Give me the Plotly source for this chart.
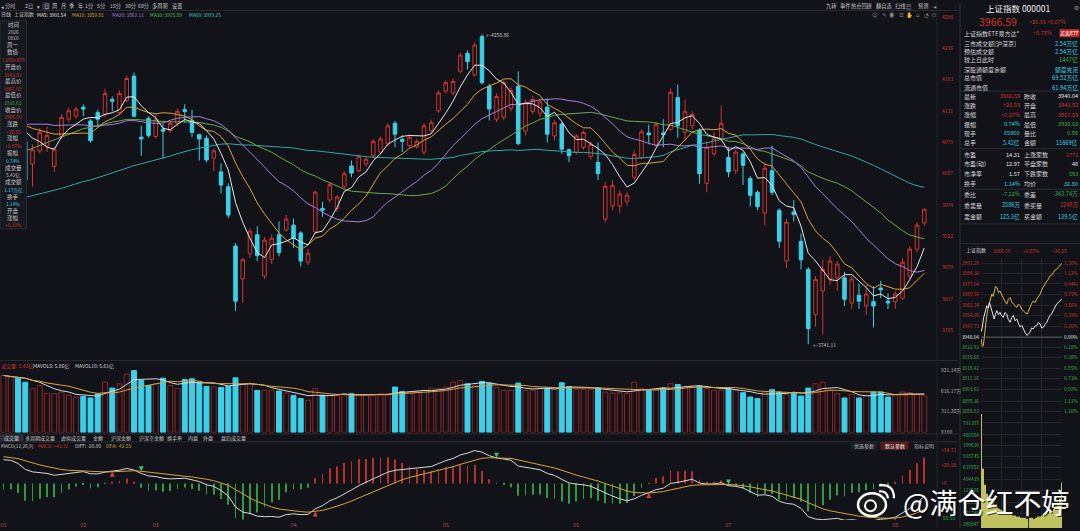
import pandas as pd
import plotly.graph_objects as go

W, H = 1080, 531
BG = "#111318"
PANEL = "#16191f"
RED = "#d0342c"
RED_DIM = "#8f2626"
CYAN = "#3ad0ea"
GREEN = "#3fae49"
WHITE = "#e6e6e6"
YEL = "#d9a43a"
PURP = "#a57fd8"
MA30C = "#6aa84a"
TEAL = "#2fa8a4"
LBL = "#c8c8c8"
FONT = "Noto Sans CJK SC, DejaVu Sans, sans-serif"

# ---------------- daily data ----------------
open_ = [4100, 4120, 4132, 4080, 4042, 4064, 4072, 4038, 4088, 4117,
         4122, 4137, 4114, 4128, 4125, 4150, 4128, 4148, 4189, 4087,
         4118, 4088, 4100, 4098, 4110, 4133, 4115, 4091, 4085, 4052,
         4029, 4004, 3905, 3850, 3892, 3924, 3855, 3883, 3924, 3932,
         3940, 3927, 3878, 3929, 3968, 3982, 3968, 4004, 4039, 4031,
         4042, 4056, 4062, 4076, 4110, 4083, 4073, 4071, 4062, 4098,
         4131, 4164, 4161, 4197, 4227, 4191, 4255, 4172, 4117, 4120,
         4135, 4172, 4097, 4130, 4127, 4137, 4089, 4109, 4066, 4062,
         4070, 4055, 4045, 3950, 3972, 3972, 3979, 4020, 4053, 4094,
         4073, 4094, 4100, 4153, 4095, 4106, 4098, 4010, 4060, 4085,
         4053, 4031, 4059, 4018, 3995, 3960, 4031, 3965, 3880, 3962,
         3913, 3866, 3791, 3830, 3850, 3852, 3852, 3810, 3823, 3805,
         3812, 3835, 3813, 3812, 3818, 3855, 3900, 3943.82]
high = [4130, 4140, 4135, 4082, 4075, 4102, 4105, 4070, 4125, 4136,
        4138, 4142, 4117, 4133, 4168, 4155, 4165, 4190, 4195, 4106,
        4122, 4125, 4109, 4114, 4135, 4142, 4133, 4093, 4090, 4068,
        4043, 4010, 3910, 3885, 3935, 3938, 3920, 3925, 3946, 3957,
        3951, 3930, 3900, 3998, 3979, 4012, 3990, 4030, 4048, 4058,
        4054, 4084, 4088, 4110, 4114, 4090, 4092, 4084, 4110, 4116,
        4165, 4182, 4185, 4228, 4232, 4245, 4258.86, 4176, 4160, 4182,
        4170, 4197, 4150, 4156, 4152, 4152, 4115, 4112, 4068, 4092,
        4098, 4080, 4078, 4012, 4015, 3998, 3995, 4065, 4100, 4108,
        4112, 4117, 4168, 4175, 4150, 4130, 4102, 4080, 4095, 4140,
        4070, 4066, 4062, 4022, 3998, 4045, 4073, 3968, 3950, 3982,
        3926, 3870, 3855, 3882, 3888, 3880, 3862, 3855, 3843, 3840,
        3838, 3847, 3826, 3830, 3885, 3905, 3945, 3967.59]
low = [4095, 4110, 4080, 4012, 4004, 4060, 4062, 4029, 4084, 4112,
       4118, 4122, 4078, 4105, 4120, 4130, 4125, 4145, 4120, 4056,
       4086, 4085, 4051, 4094, 4105, 4111, 4087, 4048, 4045, 4030,
       3993, 3952, 3797, 3810, 3885, 3880, 3850, 3875, 3888, 3929,
       3902, 3871, 3874, 3926, 3954, 3978, 3962, 4000, 4020, 4028,
       4038, 4052, 4058, 4072, 4070, 4062, 4070, 4068, 4058, 4094,
       4128, 4160, 4157, 4193, 4200, 4188, 4175, 4115, 4112, 4115,
       4130, 4074, 4090, 4125, 4120, 4078, 4082, 4059, 4045, 4058,
       4066, 4050, 4015, 3945, 3965, 3960, 3972, 4015, 4050, 4075,
       4070, 4070, 4098, 4086, 4080, 4100, 4009, 3995, 4055, 4080,
       4020, 4025, 4007, 3971, 3965, 3940, 3990, 3902, 3868, 3946,
       3866, 3741.11, 3770, 3757, 3840, 3830, 3805, 3800, 3800, 3790,
       3769, 3818, 3800, 3800, 3815, 3850, 3895, 3938.63]
close_ = [4125, 4135, 4085, 4016, 4066, 4095, 4090, 4067, 4120, 4131,
          4134, 4134, 4081, 4117, 4160, 4147, 4160, 4185, 4122, 4084,
          4090, 4116, 4097, 4110, 4130, 4130, 4095, 4084, 4049, 4064,
          4007, 3957, 3813, 3882, 3930, 3889, 3915, 3918, 3894, 3950,
          3918, 3880, 3893, 3995, 3965, 4008, 3987, 4026, 4027, 4055,
          4050, 4080, 4084, 4106, 4092, 4080, 4087, 4080, 4106, 4111,
          4161, 4178, 4180, 4224, 4213, 4241, 4178, 4134, 4155, 4178,
          4165, 4076, 4144, 4150, 4146, 4092, 4111, 4067, 4056, 4089,
          4095, 4075, 4026, 4005, 4006, 3992, 3990, 4058, 4096, 4091,
          4108, 4091, 4162, 4106, 4130, 4125, 4026, 4070, 4085, 4110,
          4029, 4062, 4040, 3990, 3971, 4035, 3995, 3913, 3945, 3958,
          3882, 3767, 3849, 3866, 3880, 3875, 3816, 3850, 3813, 3825,
          3805, 3832, 3810, 3825, 3878, 3900, 3940.04, 3966.59]
# volume, unit: 万 (x100)
volume = [842, 818, 803, 744, 647, 695, 573, 573, 598, 549,
          524, 534, 510, 573, 744, 656, 720, 866, 915, 769,
          695, 720, 803, 695, 647, 783, 793, 744, 681, 671,
          666, 681, 808, 720, 720, 622, 622, 622, 612, 583,
          549, 500, 475, 647, 549, 549, 549, 563, 573, 559,
          559, 549, 559, 573, 671, 607, 598, 607, 622, 656,
          647, 671, 744, 769, 720, 695, 754, 730, 671, 622,
          622, 730, 622, 622, 647, 656, 656, 734, 676, 637,
          637, 637, 661, 598, 583, 588, 573, 744, 647, 622,
          622, 656, 720, 710, 671, 671, 686, 647, 622, 622,
          661, 622, 588, 524, 500, 598, 632, 598, 559, 588,
          539, 656, 720, 744, 622, 573, 510, 563, 510, 549,
          598, 598, 524, 549, 598, 588, 573, 542]
# closes before the first visible day (feed the moving averages / MACD)
prior_closes = [3902, 3915, 3908, 3896, 3905, 3918, 3912, 3900, 3894, 3906,
                3915, 3922, 3910, 3898, 3904, 3913, 3920, 3908, 3899, 3906,
                3915, 3911, 3902, 3896, 3908, 3917, 3924, 3912, 3903, 3910,
                3918, 3906, 3912,
                3930, 3945, 3952, 3948, 3966, 3980, 3992, 4005, 4012, 4020,
                4060, 4085, 4098, 4110, 4122, 4115, 4128, 4135, 4120, 4126,
                4118, 4130, 4112, 4105, 4118, 4124]

month_tick_idx = [0, 11, 21, 40, 61, 79, 100, 123]
month_tick_labels = ["01", "02", "03", "04", "05", "06", "07", "08"]
price_ticks = [3765, 3817, 3870, 3922, 3974, 4027, 4079, 4131, 4183, 4236, 4288]
vol_ticks = [0, 311.20, 616.17, 921.14]
vol_tick_labels = ["X100", "311.20万", "616.17万", "921.14万"]
macd_ticks = [-58.55, 0, 29.98, 54.71]
macd_tick_labels = ["-58.55", "+0", "+29.98", "+54.71"]
high_label = (66, 4258.86)
low_label = (111, 3741.11)

# ---------------- intraday data (right panel) ----------------
prev_close = 3940.04
intra_t = [0, 4, 7, 12, 17, 21, 25, 29, 32, 36, 39, 43, 47, 52, 56, 61, 66, 71, 76,
           81, 86, 91, 96, 101, 106, 111, 116, 121, 125, 131, 137, 141, 145, 150,
           155, 160, 165, 170, 175, 180, 185, 190, 195, 200, 204, 209, 214, 219,
           224, 231, 239]
intra_index = [3943.8, 3947.0, 3952.7, 3957.5, 3961.8, 3960.2, 3964.1, 3961.0, 3958.4,
               3955.2, 3952.7, 3956.0, 3958.4, 3955.6, 3957.3, 3955.0, 3953.8, 3957.2,
               3956.1, 3952.3, 3950.4, 3953.5, 3955.0, 3951.4, 3952.7, 3949.5, 3947.0,
               3948.2, 3945.8, 3943.0, 3941.2, 3942.6, 3943.5, 3946.3, 3945.8, 3947.7,
               3948.0, 3950.1, 3949.2, 3946.4, 3947.0, 3949.0, 3950.4, 3953.1, 3955.0,
               3956.2, 3958.4, 3960.5, 3963.0, 3964.4, 3966.6]
intra_lead = [3938.9, 3933.5, 3934.3, 3946.0, 3955.0, 3960.0, 3964.1, 3967.5, 3969.9,
              3968.4, 3971.0, 3975.2, 3974.5, 3971.0, 3972.1, 3969.5, 3967.6, 3965.0,
              3963.0, 3966.2, 3967.6, 3964.5, 3963.0, 3961.5, 3960.7, 3963.0, 3961.8,
              3959.5, 3958.4, 3957.0, 3956.1, 3958.8, 3960.7, 3963.5, 3965.2, 3964.0,
              3966.4, 3968.0, 3969.9, 3973.0, 3975.6, 3977.0, 3979.0, 3980.4, 3982.5,
              3983.1, 3984.8, 3986.5, 3987.1, 3989.0, 3991.2]
intra_vol_t = list(range(0, 241, 6))
intra_vol = [100, 52, 38, 30, 26, 24, 22, 20, 19, 17, 16, 15, 14, 13, 13, 12,
             11, 11, 10, 10, 9, 9, 9, 8, 9, 9, 8, 9, 10, 10, 11, 11, 12, 13,
             14, 15, 17, 19, 22, 26, 40]
intra_price_ticks = [3991.20, 3984.30, 3977.04, 3969.50, 3962.24, 3954.98, 3947.73,
                     3940.04, 3932.93, 3925.68, 3918.42, 3911.16, 3903.62, 3895.36,
                     3888.63]
intra_pct_labels = ["1.30%", "1.12%", "0.94%", "0.75%", "0.56%", "0.39%", "0.20%",
                    "0.00%", "0.18%", "0.38%", "0.55%", "0.73%", "0.92%", "1.11%",
                    "1.30%"]
intra_vol_tick_pos = [92.2, 81.7, 72.4, 62.6, 53.0, 42.9, 33.0, 22.6, 13.0, 3.5]
intra_vol_tick_labels = ["791397", "480554", "199630", "918745", "637852",
                         "404419", "123526", "842633", "561740", "280847"]

# ---------------- derived series ----------------
n = len(close_)
idx = list(range(n))
k = len(prior_closes)
allc = pd.Series(prior_closes + close_, dtype=float)
ma = {p: allc.rolling(p, min_periods=1).mean().iloc[k:].tolist() for p in (5, 10, 20, 30, 60)}
ema12 = allc.ewm(span=12, adjust=False).mean()
ema26 = allc.ewm(span=26, adjust=False).mean()
dif_all = ema12 - ema26
dea_all = dif_all.ewm(span=9, adjust=False).mean()
dif = dif_all.iloc[k:].tolist()
dea = dea_all.iloc[k:].tolist()
hist = [2 * (a - b) for a, b in zip(dif, dea)]
vol_s = pd.Series(volume, dtype=float)
mavol5 = vol_s.rolling(5, min_periods=1).mean().tolist()
mavol10 = vol_s.rolling(10, min_periods=1).mean().tolist()
up = [c >= o for o, c in zip(open_, close_)]
gold_x, gold_y, dead_x, dead_y = [], [], [], []
for i in range(1, n):
    if dif[i - 1] < dea[i - 1] and dif[i] >= dea[i]:
        gold_x.append(i); gold_y.append(dea[i])
    elif dif[i - 1] > dea[i - 1] and dif[i] <= dea[i]:
        dead_x.append(i); dead_y.append(dea[i])

fig = go.Figure()
fig.add_trace(go.Candlestick(
    x=idx, open=open_, high=high, low=low, close=close_,
    increasing=dict(line=dict(color=RED, width=1), fillcolor=BG),
    decreasing=dict(line=dict(color=CYAN, width=1), fillcolor=CYAN),
    whiskerwidth=0, xaxis="x", yaxis="y", showlegend=False, hoverinfo="skip"))
for p, col in [(60, TEAL), (30, MA30C), (20, PURP), (10, YEL), (5, WHITE)]:
    fig.add_trace(go.Scatter(x=idx, y=ma[p], mode="lines", line=dict(color=col, width=1),
                             xaxis="x", yaxis="y", showlegend=False, hoverinfo="skip"))

fig.add_trace(go.Bar(x=idx, y=volume, width=0.68,
                     marker=dict(color=[BG if u else CYAN for u in up],
                                 line=dict(color=[RED_DIM if u else CYAN for u in up], width=1)),
                     xaxis="x2", yaxis="y2", showlegend=False, hoverinfo="skip"))
fig.add_trace(go.Scatter(x=idx, y=mavol5, mode="lines", line=dict(color="#d8d8d8", width=1),
                         xaxis="x2", yaxis="y2", showlegend=False, hoverinfo="skip"))
fig.add_trace(go.Scatter(x=idx, y=mavol10, mode="lines", line=dict(color=YEL, width=1),
                         xaxis="x2", yaxis="y2", showlegend=False, hoverinfo="skip"))

fig.add_trace(go.Bar(x=idx, y=hist, width=0.12,
                     marker=dict(color=["#b8322c" if v >= 0 else "#2f9a40" for v in hist], line=dict(width=0)),
                     xaxis="x3", yaxis="y3", showlegend=False, hoverinfo="skip"))
fig.add_trace(go.Scatter(x=idx, y=dif, mode="lines", line=dict(color="#d8d8d8", width=1),
                         xaxis="x3", yaxis="y3", showlegend=False, hoverinfo="skip"))
fig.add_trace(go.Scatter(x=idx, y=dea, mode="lines", line=dict(color=YEL, width=1),
                         xaxis="x3", yaxis="y3", showlegend=False, hoverinfo="skip"))
fig.add_trace(go.Scatter(x=gold_x, y=gold_y, mode="markers",
                         marker=dict(symbol="arrow-up", size=5, color="#e04040"),
                         xaxis="x3", yaxis="y3", showlegend=False, hoverinfo="skip"))
fig.add_trace(go.Scatter(x=dead_x, y=dead_y, mode="markers",
                         marker=dict(symbol="arrow-down", size=5, color="#40c060"),
                         xaxis="x3", yaxis="y3", showlegend=False, hoverinfo="skip"))

# intraday
fig.add_trace(go.Scatter(x=[0, 240], y=[prev_close, prev_close], mode="lines",
                         line=dict(color="#5a5e66", width=1), xaxis="x4", yaxis="y6",
                         showlegend=False, hoverinfo="skip"))
fig.add_trace(go.Scatter(x=intra_t, y=intra_lead, mode="lines", line=dict(color="#d6b84a", width=1),
                         xaxis="x4", yaxis="y4", showlegend=False, hoverinfo="skip"))
fig.add_trace(go.Scatter(x=intra_t, y=intra_index, mode="lines", line=dict(color="#e8e8e8", width=1),
                         xaxis="x4", yaxis="y4", showlegend=False, hoverinfo="skip"))
fig.add_trace(go.Bar(x=intra_vol_t, y=intra_vol, width=3.5, marker=dict(color="#bfc25e", line=dict(width=0)),
                     xaxis="x5", yaxis="y5", showlegend=False, hoverinfo="skip"))

def py(p):
    return 1 - p / H

def px(p):
    return p / W

x_dom = [0, px(937)]
ppx = 7.25
xr = [-3.5 / ppx, -3.5 / ppx + 937 / ppx]
noax = dict(showgrid=False, zeroline=False, showline=False, ticks="")

def colored(vals, texts):
    out = []
    for v, t in zip(vals, texts):
        c = RED if v > prev_close + 0.01 else (WHITE if abs(v - prev_close) < 0.01 else GREEN)
        out.append(f"<span style='color:{c}'>{t}</span>")
    return out

iy_range = [3888.63 - 3 * 0.6884, 3991.2 + 6 * 0.6884]
layout = dict(
    width=W, height=H, margin=dict(l=0, r=0, t=0, b=0),
    paper_bgcolor=BG, plot_bgcolor=BG, barmode="overlay",
    font=dict(family=FONT, size=6, color=WHITE), showlegend=False,
    xaxis=dict(domain=x_dom, range=xr, visible=False, rangeslider=dict(visible=False), anchor="y", **noax),
    xaxis2=dict(domain=x_dom, matches="x", visible=False, anchor="y2", **noax),
    xaxis3=dict(domain=x_dom, matches="x", anchor="y3", tickvals=month_tick_idx, ticktext=month_tick_labels,
                tickfont=dict(size=5.5, color="#b04848"), ticklabelstandoff=0, **noax),
    yaxis=dict(domain=[py(362), py(12)], range=[4288 - (362 - 15) * 1.655, 4288 - (12 - 15) * 1.655],
               side="right", anchor="x", tickvals=price_ticks, ticktext=[str(v) for v in price_ticks],
               tickfont=dict(size=5, color=RED), ticklabelstandoff=4, **noax),
    yaxis2=dict(domain=[py(434.5), py(366)], range=[0, (434.5 - 366) * 14.66], side="right", anchor="x2",
                tickvals=vol_ticks, ticktext=vol_tick_labels, tickfont=dict(size=5, color="#b8b8b8"),
                ticklabelstandoff=3, **noax),
    yaxis3=dict(domain=[py(523), py(450)], range=[-(523 - 486) * 1.642, (486 - 450) * 1.642], side="right",
                anchor="x3", tickvals=macd_ticks,
                ticktext=[f"<span style='color:{GREEN if v < 0 else RED}'>{t}</span>"
                          for v, t in zip(macd_ticks, macd_tick_labels)],
                tickfont=dict(size=5), ticklabelstandoff=3, **noax),
    xaxis4=dict(domain=[px(981), px(1062)], range=[0, 240], anchor="y4", showticklabels=False,
                tickvals=[60, 120, 180], showgrid=True, gridcolor="#24272e", zeroline=False, ticks=""),
    xaxis5=dict(domain=[px(981), px(1062)], range=[0, 240], anchor="y5", showticklabels=False,
                tickvals=[60, 120, 180], showgrid=True, gridcolor="#24272e", zeroline=False, ticks=""),
    yaxis4=dict(domain=[py(416), py(258)], range=iy_range, anchor="x4",
                side="left", tickvals=intra_price_ticks,
                ticktext=colored(intra_price_ticks, [f"{v:.2f}" for v in intra_price_ticks]),
                tickfont=dict(size=4.8), showgrid=True, gridcolor="#22252c", zeroline=False, ticks="",
                ticklabelstandoff=1),
    yaxis6=dict(overlaying="y4", range=iy_range, anchor="x4",
                side="right", tickvals=intra_price_ticks, ticktext=colored(intra_price_ticks, intra_pct_labels),
                tickfont=dict(size=4.8), showgrid=False, zeroline=False, ticks="", ticklabelstandoff=1),
    yaxis5=dict(domain=[0, py(416)], range=[0, 100], anchor="x5", side="left", tickvals=intra_vol_tick_pos,
                ticktext=intra_vol_tick_labels, tickfont=dict(size=4.8, color=GREEN), showgrid=True,
                gridcolor="#22252c", zeroline=False, ticks="", ticklabelstandoff=1),
)
fig.update_layout(**layout)

anns = []
def T(text, x, y, size=5.5, color=WHITE, anchor="left", bg=None):
    d = dict(text=text, x=px(x), y=py(y), xref="paper", yref="paper", xanchor=anchor, yanchor="middle",
             showarrow=False, font=dict(size=size, color=color, family=FONT), borderpad=0)
    if bg:
        d.update(bgcolor=bg, borderpad=1)
    anns.append(d)

shapes = []
def line(x0, y0, x1, y1, color="#2a2d34", width=1):
    shapes.append(dict(type="line", xref="paper", yref="paper", x0=px(x0), y0=py(y0), x1=px(x1), y1=py(y1),
                       line=dict(color=color, width=width), layer="above"))
def rect(x0, y0, x1, y1, fill, color=None):
    shapes.append(dict(type="rect", xref="paper", yref="paper", x0=px(x0), y0=py(y0), x1=px(x1), y1=py(y1),
                       fillcolor=fill, line=dict(color=color or fill, width=1), layer="above"))

# panel frames
line(0, 8.5, 958, 8.5)
line(0, 362, 958, 362)
line(0, 436, 958, 436)
line(0, 444, 958, 444)
line(937, 0, 937, 531, "#22252b")
line(960, 0, 960, 531, "#2e3138")
for yy in (90, 148, 189, 224, 244):
    line(960, yy, 1080, yy, "#2a2d34")

# toolbar
rect(42.5, 1, 49.5, 8, "#2c3038")
for t, xx in [("◂", 2.5), ("分时", 10), ("2日", 29), ("▾", 38), ("日", 46), ("周", 54.5), ("月", 63), ("季", 71),
              ("年", 80), ("1分", 89), ("5分", 101), ("15分", 115), ("30分", 130), ("60分", 143),
              ("多周期", 160), ("设置", 177)]:
    T(t, xx, 4.5, 5.2, LBL, "center")
for t, xx in [("九转", 831), ("事件", 845), ("热点回顾", 861), ("翻自选", 884), ("扫线", 900), ("▤", 908),
              ("预测", 923), ("⇥", 934)]:
    T(t, xx, 4.5, 5.2, LBL, "center")
T("•", 836, 2.5, 4, RED, "center")
T("•", 850, 2.5, 4, RED, "center")
for t, xx in zip(["☺", "✎", "◉", "☰", "✋", "⌂", "◔", "⊖"], [875, 884, 892, 901, 909, 918, 926, 934]):
    T(t, xx, 13.5, 5.5, "#8a8f96", "center")

# MA legend
T("日线", 0, 12.5, 5, LBL)
T("上证指数", 13, 12.5, 5, LBL)
T("MA5: 3901.54", 36, 12.5, 4.8, WHITE)
T("MA10: 3859.61", 71, 12.5, 4.8, YEL)
T("MA20: 3862.11", 110.5, 12.5, 4.8, PURP)
T("MA30: 3915.89", 149, 12.5, 4.8, "#58c058")
T("MA60: 3999.25", 188, 12.5, 4.8, "#40c4c4")

# left info panel
rect(0, 19, 26.5, 229, PANEL, "#2a2e36")
info = [("时间", 23.3, LBL), ("2026", 29.5, "#c0c0c0"), ("0810", 36, "#c0c0c0"), ("周一", 43.3, LBL),
        ("数值", 50.7, LBL), ("13059.678", 58.3, RED), ("开盘价", 65.3, LBL), ("3943.82", 72.7, RED),
        ("最高价", 80, LBL), ("3967.59", 87.3, RED), ("最低价", 94.3, LBL), ("3938.63", 101.7, GREEN),
        ("收盘价", 109, LBL), ("3966.59", 116, RED), ("涨跌", 123.3, LBL), ("+26.55", 130.7, RED),
        ("涨幅", 137.7, LBL), ("+0.67%", 145.3, RED), ("振幅", 152.7, LBL), ("0.74%", 160, CYAN),
        ("成交量", 167.3, LBL), ("5.42亿", 174.7, LBL), ("成交额", 181.7, LBL),
        ("1.17万亿", 189.3, CYAN), ("换手", 196.7, LBL), ("1.14%", 203.3, CYAN), ("开盘", 210.7, LBL),
        ("涨幅", 217.7, LBL), ("+0.10%", 225, RED)]
for t, yy, c in info:
    T(t, 13.2, yy, 4.8 if any(ch.isdigit() for ch in t) else 5.5, c, "center")

# high / low marks
anns.append(dict(text="←4258.86", x=high_label[0], y=high_label[1], xref="x", yref="y", xanchor="left",
                 yanchor="middle", xshift=2, showarrow=False, font=dict(size=5, color=LBL, family=FONT)))
anns.append(dict(text="←3741.11", x=low_label[0], y=low_label[1], xref="x", yref="y", xanchor="left",
                 yanchor="middle", xshift=3, showarrow=False, font=dict(size=5, color=LBL, family=FONT)))

# volume legend
T("成交量: 5.42亿", 0, 367, 5, RED)
T("MAVOL5: 5.66亿", 32, 367, 5, "#d8d8d8")
T("MAVOL10: 5.61亿", 74, 367, 5, "#d8d8d8")

# tab row
rect(0, 437, 23, 443, "#2c3038")
for t, xx in [("成交量", 11.5), ("多周期成交量", 40), ("虚拟成交量", 73.5), ("金额", 97.5), ("沪深金额", 121),
              ("沪深京金额", 151), ("换手率", 174.5), ("内盘", 193), ("外盘", 208), ("盘后成交量", 233.5)]:
    T(t, xx, 440, 5, LBL, "center")

# MACD legend and buttons
T("MACD(12,26,9)", 0, 447.7, 4.8, LBL)
T("MACD: +43.32", 37, 447.7, 4.8, RED)
T("DIFF: -20.90", 74, 447.7, 4.8, "#d8d8d8")
T("DEA: -42.55", 105, 447.7, 4.8, YEL)
rect(851, 444.5, 877, 451.5, "#1c1f26")
rect(881, 444.5, 908, 451.5, "#5a1b1b")
T("优选参数", 864, 448, 5, "#b8b8b8", "center")
T("默认参数", 894.5, 448, 5, "#f0f0f0", "center")
T("指标说明", 924, 448, 5, "#b8b8b8", "center")

# right quote panel
T("上证指数 000001", 1018, 6, 8.5, "#f0f0f0", "center")
T("⚙", 1076, 6, 6, "#9a9a9a", "center")
T("3966.59", 978, 19.5, 10.5, RED)
T("+26.55", 1028, 20, 5.5, RED)
T("+0.67%", 1046, 20, 5.5, RED)
T("上证指数ETF易方达*", 963, 31.5, 6, "#d8d8d8")
T("+0.78%", 1053, 31.5, 5.5, RED, "right")
rect(1060, 28, 1079, 35, "#c0302a")
T("买卖ETF", 1069.5, 31.5, 5, "#ffffff", "center")
for lab, val, c, yy in [("三市成交额[沪深京]", "2.54万亿", CYAN, 41.7), ("预估成交额", "2.54万亿", CYAN, 50),
                        ("较上日此时", "-1447亿", GREEN, 57.7), ("深股通额度余额", "额度充足", CYAN, 67.7),
                        ("总市值", "69.52万亿", CYAN, 76.7), ("流通市值", "61.94万亿", CYAN, 86)]:
    T(lab, 963, yy, 6, "#d8d8d8")
    T(val, 1079, yy, 5.8, c, "right")
rows4 = [("最新", "3966.59", RED, "昨收", "3940.04", WHITE, 95),
         ("涨跌", "+26.55", RED, "开盘", "3943.82", RED, 104.3),
         ("涨幅", "+0.67%", RED, "最高", "3967.59", RED, 114),
         ("振幅", "0.74%", CYAN, "最低", "3938.63", GREEN, 123.3),
         ("现手", "65860", CYAN, "量比", "0.98", GREEN, 132.7),
         ("总手", "5.42亿", CYAN, "金额", "11669亿", CYAN, 142.3),
         ("市盈", "14.31", WHITE, "上涨家数", "1771", RED, 154),
         ("市盈(动)", "12.97", WHITE, "平盘家数", "48", WHITE, 163.3),
         ("市净率", "1.57", WHITE, "下跌家数", "593", GREEN, 173.3),
         ("换手", "1.14%", CYAN, "均价", "32.80", CYAN, 183.3),
         ("委比", "-7.12%", GREEN, "委差", "-343.74万", GREEN, 194),
         ("委卖量", "2586万", CYAN, "委买量", "2248万", RED, 205.3),
         ("卖金额", "125.3亿", CYAN, "买金额", "139.5亿", CYAN, 216.7)]
for l1, v1, c1, l2, v2, c2, yy in rows4:
    T(l1, 963, yy, 6, "#d8d8d8")
    T(v1, 1021, yy, 5.6, c1, "right")
    T(l2, 1023, yy, 6, "#d8d8d8")
    T(v2, 1079, yy, 5.6, c2, "right")
T("上证指数", 965, 250.7, 5, "#d8d8d8")
T("3966.59", 1002, 250.7, 4.8, RED, "center")
T("+0.67%", 1031, 250.7, 4.8, RED, "center")
T("+26.55", 1059, 250.7, 4.8, RED, "center")

# watermark
anns.append(dict(text="@满仓红不婷", x=px(986), y=py(505), xref="paper", yref="paper", xanchor="center",
                 yanchor="middle", xshift=1, yshift=-1, showarrow=False,
                 font=dict(size=28, color="rgba(0,0,0,0.7)", family=FONT)))
T("@满仓红不婷", 986, 505, 28, "#ffffff", "center")

def pth(pts):
    s = ""
    for cmd, coords in pts:
        s += cmd + " " + " ".join(f"{px(a):.5f},{py(b):.5f}" for a, b in coords) + " "
    return s
shapes.append(dict(type="circle", xref="paper", yref="paper", x0=px(858), x1=px(886), y0=py(519), y1=py(496),
                   fillcolor="#1a1a1a", line=dict(color="#ffffff", width=2.5), layer="above"))
shapes.append(dict(type="circle", xref="paper", yref="paper", x0=px(865), x1=px(876), y0=py(514), y1=py(503),
                   fillcolor="#111111", line=dict(color="#ffffff", width=2), layer="above"))
shapes.append(dict(type="path", xref="paper", yref="paper",
                   path=pth([("M", [(879, 494)]), ("Q", [(887, 493), (888, 501)])]),
                   line=dict(color="#ffffff", width=2.2), layer="above"))
shapes.append(dict(type="path", xref="paper", yref="paper",
                   path=pth([("M", [(879, 488)]), ("Q", [(894, 486), (894, 501)])]),
                   line=dict(color="#ffffff", width=2.2), layer="above"))

fig.update_layout(annotations=anns, shapes=shapes)
fig.write_html("out.html", config={"displayModeBar": False},
               post_script="document.body.style.margin='0';document.body.style.background='#111318';")
